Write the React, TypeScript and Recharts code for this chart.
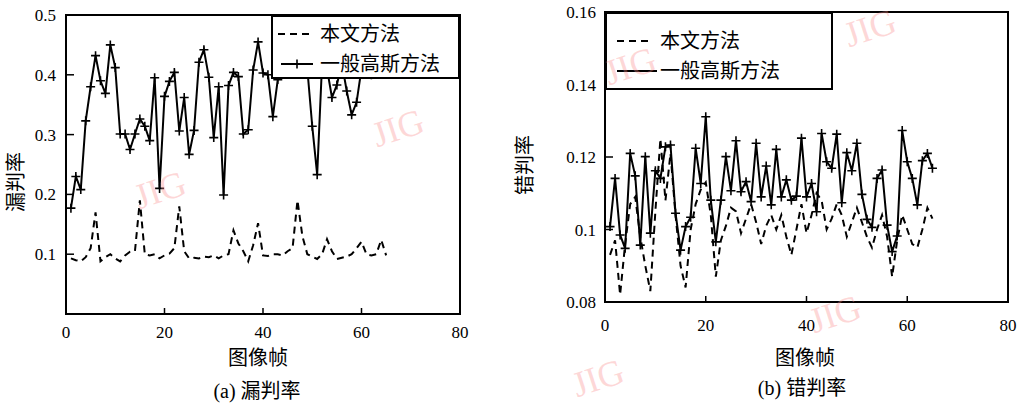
import { LineChart, Line, XAxis, YAxis, Legend, ReferenceArea } from 'recharts';

// frame index (x) shared by both panels
const FRAMES = [
  1, 2, 3, 4, 5, 6, 7, 8, 9, 10, 11, 12, 13, 14, 15, 16, 17, 18, 19, 20,
  21, 22, 23, 24, 25, 26, 27, 28, 29, 30, 31, 32, 33, 34, 35, 36, 37, 38, 39, 40,
  41, 42, 43, 44, 45, 46, 47, 48, 49, 50, 51, 52, 53, 54, 55, 56, 57, 58, 59, 60,
  61, 62, 63, 64, 65,
];

// (a) 漏判率
const MISS_OURS = [
  0.093, 0.09, 0.088, 0.095, 0.11, 0.17, 0.088, 0.095, 0.1, 0.093,
  0.088, 0.098, 0.104, 0.105, 0.19, 0.1, 0.098, 0.1, 0.093, 0.098,
  0.101, 0.11, 0.18, 0.105, 0.093, 0.094, 0.093, 0.096, 0.095, 0.098,
  0.093, 0.098, 0.1, 0.14, 0.118, 0.105, 0.088, 0.115, 0.152, 0.098,
  0.097, 0.1, 0.1, 0.098, 0.105, 0.11, 0.19, 0.13, 0.1, 0.096,
  0.092, 0.1, 0.125, 0.105, 0.092, 0.094, 0.096, 0.1, 0.11, 0.121,
  0.1, 0.098, 0.1, 0.124, 0.098,
];
const MISS_GAUSS = [
  0.177, 0.23, 0.208, 0.323, 0.38, 0.432, 0.39, 0.369, 0.45, 0.412,
  0.301, 0.301, 0.275, 0.301, 0.326, 0.314, 0.29, 0.395, 0.21, 0.364,
  0.389, 0.404, 0.306, 0.362, 0.267, 0.307, 0.421, 0.442, 0.396, 0.295,
  0.38, 0.199, 0.382, 0.404, 0.397, 0.301, 0.308, 0.408, 0.455, 0.403,
  0.4, 0.33, 0.392, 0.43, 0.41, 0.403, 0.42, 0.44, 0.41, 0.314,
  0.233, 0.42, 0.41, 0.362, 0.383, 0.42, 0.373, 0.333, 0.354, 0.41,
  0.43, 0.4, 0.41, 0.403,
];

// (b) 错判率
const FALSE_OURS = [
  0.093, 0.097, 0.082, 0.096, 0.107, 0.109, 0.098, 0.09, 0.083, 0.105,
  0.125, 0.108, 0.121, 0.104, 0.09, 0.084, 0.1, 0.107, 0.111, 0.113,
  0.104, 0.087, 0.097, 0.101, 0.106, 0.105, 0.099, 0.103, 0.107, 0.102,
  0.096, 0.101, 0.104, 0.1, 0.104, 0.098, 0.093, 0.1, 0.107, 0.099,
  0.104, 0.11, 0.108, 0.1, 0.103, 0.107, 0.104, 0.098, 0.102, 0.106,
  0.102, 0.098, 0.095, 0.1, 0.104, 0.098, 0.087, 0.097, 0.104, 0.1,
  0.096, 0.095, 0.1, 0.106, 0.103,
];
const FALSE_GAUSS = [
  0.1008, 0.1141, 0.0985, 0.0948, 0.121, 0.1148, 0.0957, 0.1201, 0.099, 0.1162,
  0.1141, 0.1228, 0.1233, 0.1045, 0.0943, 0.1008, 0.1034, 0.1224, 0.1127, 0.1311,
  0.1081, 0.0966, 0.1081, 0.1201, 0.1107, 0.1245, 0.1104, 0.1132, 0.1077, 0.1238,
  0.109, 0.1175, 0.1068, 0.1221, 0.109, 0.1137, 0.1081, 0.1092, 0.1252, 0.109,
  0.1127, 0.1049, 0.1265, 0.1187, 0.1169, 0.1263, 0.1074, 0.1212, 0.1162, 0.1238,
  0.1097, 0.1028, 0.1006, 0.1141, 0.1164, 0.1012, 0.0939, 0.0982, 0.1273, 0.1187,
  0.1141, 0.1068, 0.119, 0.121, 0.1169,
];

const X_TICKS = [0, 20, 40, 60, 80];
const MISS_TICKS = [0.1, 0.2, 0.3, 0.4, 0.5];
const FALSE_TICKS = [0.08, 0.1, 0.12, 0.14, 0.16];

const SERIES_OURS = '本文方法';
const SERIES_GAUSS = '一般高斯方法';

const missData = FRAMES.map((f, i) => ({ frame: f, ours: MISS_OURS[i], gauss: MISS_GAUSS[i] }));
const falseData = FRAMES.map((f, i) => ({ frame: f, ours: FALSE_OURS[i], gauss: FALSE_GAUSS[i] }));

const SERIF = "'Liberation Serif', 'Times New Roman', 'Noto Sans CJK SC', serif";
const txt = { fontFamily: SERIF };

const PlusDot = (props: any) => {
  const { cx, cy, index } = props;
  if (cx == null || cy == null) return <g key={`p-${index}`} />;
  return (
    <path key={`p-${index}`} d={`M${cx - 4.5},${cy}H${cx + 4.5}M${cx},${cy - 4.5}V${cy + 4.5}`}
      stroke="#000" strokeWidth={1.6} fill="none" />
  );
};

// inward tick marks, labels outside
const makeYTick = (gap: number) => (props: any) => {
  const { x, y, payload } = props;
  return (
    <g>
      <line x1={x} y1={y} x2={x + 8} y2={y} stroke="#000" strokeWidth={1.5} />
      <text x={x - gap} y={y} dy={6} textAnchor="end" fontSize={17} style={txt} fill="#000">
        {payload.value}
      </text>
    </g>
  );
};
const makeXTick = (gap: number) => (props: any) => {
  const { x, y, payload } = props;
  return (
    <g>
      <line x1={x} y1={y} x2={x} y2={y - 6} stroke="#000" strokeWidth={1.5} />
      <text x={x} y={y + gap} textAnchor="middle" fontSize={17} style={txt} fill="#000">
        {payload.value}
      </text>
    </g>
  );
};

interface LegendBoxProps { w: number; h: number; r1: number; r2: number; s1: [number, number]; s2: [number, number]; tx: number; plus: boolean }

const LegendBox = ({ w, h, r1, r2, s1, s2, tx, plus }: LegendBoxProps) => (
  <svg width={w - 4} height={h - 4} style={{ display: 'block' }}>
    <line x1={s1[0]} x2={s1[1]} y1={r1} y2={r1} stroke="#000" strokeWidth={2} strokeDasharray="7 5" />
    <text x={tx} y={r1} dy={7} fontSize={20} style={txt} fill="#000">{SERIES_OURS}</text>
    <line x1={s2[0]} x2={s2[1]} y1={r2} y2={r2} stroke="#000" strokeWidth={2} />
    {plus && <PlusDot cx={(s2[0] + s2[1]) / 2} cy={r2} index="lg" />}
    <text x={tx} y={r2} dy={7} fontSize={20} style={txt} fill="#000">{SERIES_GAUSS}</text>
  </svg>
);

const boxStyle = (left: number, top: number, width: number, height: number) => ({
  position: 'absolute' as const, left, top, width, height, background: '#fff',
  border: '2px solid #000', boxSizing: 'border-box' as const, margin: 0, padding: 0,
});

const Caption = ({ x, y, text, size = 20, rotate = 0 }: { x: number; y: number; text: string; size?: number; rotate?: number }) => (
  <div style={{
    position: 'absolute', left: x, top: y, transform: `translate(-50%, -50%) rotate(${rotate}deg)`,
    fontFamily: SERIF, fontSize: size, color: '#000', whiteSpace: 'nowrap', lineHeight: 1,
  }}>{text}</div>
);

const WATERMARKS = [
  { x: 398, y: 128 }, { x: 160, y: 190 }, { x: 630, y: 66 },
  { x: 870, y: 28 }, { x: 835, y: 314 }, { x: 598, y: 378 },
];

export default function App() {
  return (
    <div style={{ position: 'absolute', left: 0, top: 0, width: 1021, height: 408, background: '#fff', overflow: 'hidden' }}>
      {/* (a) 漏判率 */}
      <div style={{ position: 'absolute', left: 0, top: 0 }}>
        <LineChart width={480} height={360} data={missData} margin={{ top: 15, right: 20, bottom: 20, left: 0 }}>
          <XAxis dataKey="frame" type="number" domain={[0, 80]} ticks={X_TICKS} height={26}
            axisLine={{ stroke: '#000', strokeWidth: 2 }} tickLine={false} tickSize={0} tickMargin={0}
            tick={makeXTick(24)} interval={0} />
          <YAxis type="number" domain={[0, 0.5]} ticks={MISS_TICKS} width={66}
            axisLine={{ stroke: '#000', strokeWidth: 2 }} tickLine={false} tickSize={0} tickMargin={0}
            tick={makeYTick(10)} interval={0} />
          <ReferenceArea x1={0} x2={80} y1={0} y2={0.5} fill="none" stroke="#000" strokeWidth={2} ifOverflow="visible" />
          <Line dataKey="ours" name={SERIES_OURS} stroke="#000" strokeWidth={2} strokeDasharray="7 5"
            dot={false} isAnimationActive={false} type="linear" />
          <Line dataKey="gauss" name={SERIES_GAUSS} stroke="#000" strokeWidth={2}
            dot={PlusDot} isAnimationActive={false} type="linear" />
          <Legend layout="horizontal" verticalAlign="middle"
            wrapperStyle={boxStyle(271, 15, 189, 64)}
            content={() => <LegendBox w={189} h={64} r1={17} r2={47} s1={[5, 37]} s2={[8, 40]} tx={47} plus />} />
        </LineChart>
      </div>

      {/* (b) 错判率 */}
      <div style={{ position: 'absolute', left: 520, top: 0 }}>
        <LineChart width={500} height={360} data={falseData} margin={{ top: 12, right: 12, bottom: 20, left: 0 }}>
          <XAxis dataKey="frame" type="number" domain={[0, 80]} ticks={X_TICKS} height={38}
            axisLine={{ stroke: '#000', strokeWidth: 2 }} tickLine={false} tickSize={0} tickMargin={0}
            tick={makeXTick(29)} interval={0} />
          <YAxis type="number" domain={[0.08, 0.16]} ticks={FALSE_TICKS} width={85}
            axisLine={{ stroke: '#000', strokeWidth: 2 }} tickLine={false} tickSize={0} tickMargin={0}
            tick={makeYTick(9)} interval={0} />
          <ReferenceArea x1={0} x2={80} y1={0.08} y2={0.16} fill="none" stroke="#000" strokeWidth={2} ifOverflow="visible" />
          <Line dataKey="ours" name={SERIES_OURS} stroke="#000" strokeWidth={2} strokeDasharray="7 5"
            dot={false} isAnimationActive={false} type="linear" />
          <Line dataKey="gauss" name={SERIES_GAUSS} stroke="#000" strokeWidth={2}
            dot={PlusDot} isAnimationActive={false} type="linear" />
          <Legend layout="horizontal" verticalAlign="middle"
            wrapperStyle={boxStyle(85, 12, 228, 78)}
            content={() => <LegendBox w={228} h={78} r1={27} r2={57} s1={[10, 46]} s2={[10, 50]} tx={53} plus={false} />} />
        </LineChart>
      </div>

      <Caption x={16} y={182} text="漏判率" size={20} rotate={-90} />
      <Caption x={258} y={358} text="图像帧" />
      <Caption x={257} y={391} text="(a) 漏判率" />
      <Caption x={525} y={165} text="错判率" size={20} rotate={-90} />
      <Caption x={805} y={358} text="图像帧" />
      <Caption x={802} y={388} text="(b) 错判率" />

      {WATERMARKS.map((w, i) => (
        <div key={i} style={{
          position: 'absolute', left: w.x, top: w.y, transform: 'translate(-50%, -50%) rotate(-18deg)',
          fontFamily: SERIF, fontSize: 36, color: 'rgba(250, 140, 140, 0.35)', lineHeight: 1, pointerEvents: 'none',
        }}>JIG</div>
      ))}
    </div>
  );
}
